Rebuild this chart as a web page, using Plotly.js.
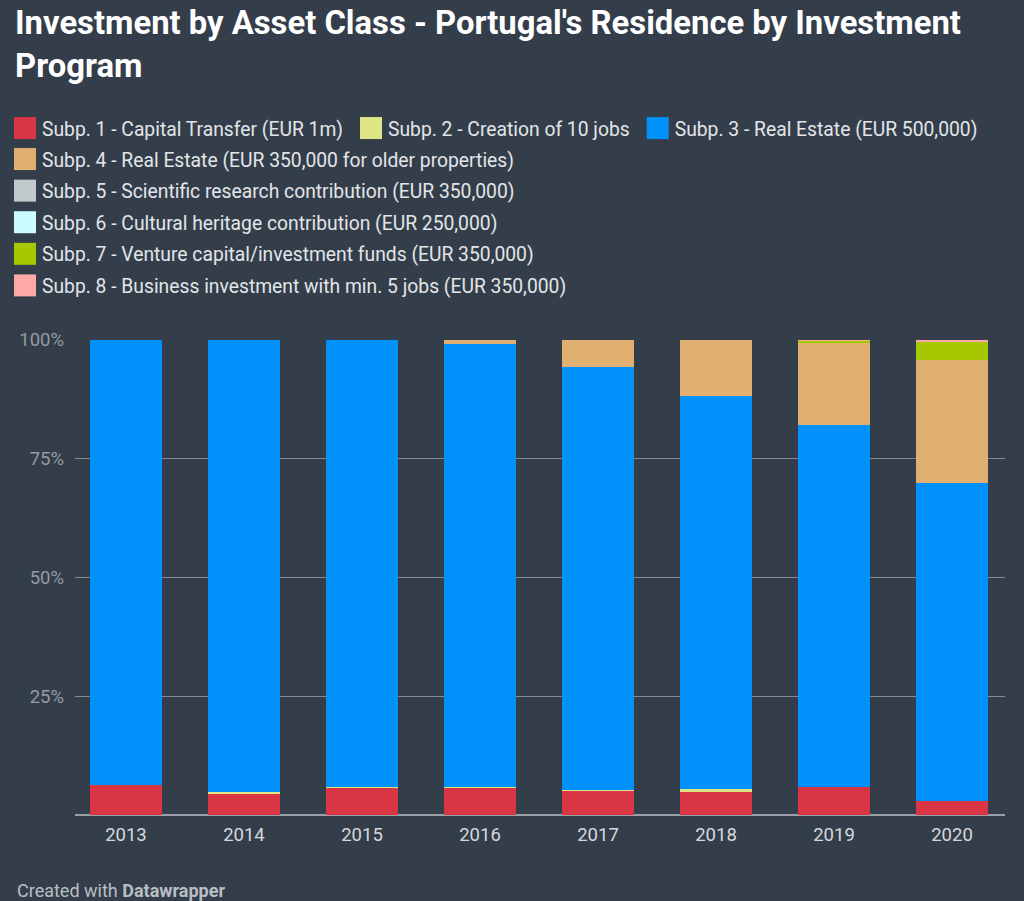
<!DOCTYPE html>
<html>
<head>
<meta charset="utf-8">
<script src="https://cdn.plot.ly/plotly-3.0.1.min.js"></script>
<style>
  html, body { margin: 0; padding: 0; background: #343e4b; }
  #chart { width: 1024px; height: 901px; }
</style>
</head>
<body>
<div id="chart"></div>
<script>
const years = ['2013', '2014', '2015', '2016', '2017', '2018', '2019', '2020'];

const seriesNames = [
  'Subp. 1 - Capital Transfer (EUR 1m)',
  'Subp. 2 - Creation of 10 jobs',
  'Subp. 3 - Real Estate (EUR 500,000)',
  'Subp. 4 - Real Estate (EUR 350,000 for older properties)',
  'Subp. 5 - Scientific research contribution (EUR 350,000)',
  'Subp. 6 - Cultural heritage contribution (EUR 250,000)',
  'Subp. 7 - Venture capital/investment funds (EUR 350,000)',
  'Subp. 8 - Business investment with min. 5 jobs (EUR 350,000)'
];

// Shares in percent
const subp1 = [6.3, 4.5, 5.8, 5.7, 5.1, 5.0, 5.9, 2.9];
const subp2 = [0.0, 0.3, 0.2, 0.1, 0.2, 0.4, 0.1, 0.0];
const subp3 = [93.7, 95.2, 94.0, 93.4, 89.1, 82.8, 76.2, 67.0];
const subp4 = [0.0, 0.0, 0.0, 0.8, 5.6, 11.8, 17.1, 25.9];
const subp5 = [0.0, 0.0, 0.0, 0.0, 0.0, 0.0, 0.0, 0.0];
const subp6 = [0.0, 0.0, 0.0, 0.0, 0.0, 0.0, 0.0, 0.0];
const subp7 = [0.0, 0.0, 0.0, 0.0, 0.0, 0.0, 0.6, 3.9];
const subp8 = [0.0, 0.0, 0.0, 0.0, 0.0, 0.0, 0.1, 0.3];

const yTickVals = [0, 25, 50, 75, 100];
const yTickText = ['', '25%', '50%', '75%', '100%'];

const seriesValues = [subp1, subp2, subp3, subp4, subp5, subp6, subp7, subp8];
const colors = ['#d93545', '#dde584', '#0091fb', '#e1b070', '#c1c9cc', '#cdfcff', '#a6c800', '#ffa9a7'];

const W = 1024, H = 901;
const M = { l: 75, r: 19, t: 340, b: 86 };
const plotW = W - M.l - M.r;
const plotH = H - M.t - M.b;
const px2x = (px) => (px - M.l) / plotW;          // pixel from left -> paper x
const px2y = (py) => (H - M.b - py) / plotH;      // pixel from top  -> paper y

const traces = seriesValues.map((vals, i) => ({
  type: 'bar',
  x: years,
  y: vals,
  name: seriesNames[i],
  marker: { color: colors[i], line: { width: 0 } },
  legend: i < 3 ? 'legend' : 'legend2',
  legendgroup: 'g' + i,
  hoverinfo: 'x+y+name'
}));

const layout = {
  width: W,
  height: H,
  paper_bgcolor: '#343e4b',
  plot_bgcolor: '#343e4b',
  font: { family: 'Roboto, "Noto Sans", sans-serif', color: '#dcdfe3' },
  barmode: 'stack',
  bargap: 0.39,
  margin: { l: M.l, r: M.r, t: M.t, b: M.b, autoexpand: false },
  title: {
    text: "<b>Investment by Asset Class - Portugal's Residence by Investment<br>Program</b>",
    font: { family: 'Roboto, sans-serif', size: 32.8, color: '#ffffff' },
    x: 15 / W, xanchor: 'left', xref: 'container',
    y: 1 - 34 / H, yanchor: 'top', yref: 'container'
  },
  xaxis: {
    type: 'category',
    range: [-0.432, 7.449],
    tickfont: { size: 18.5, color: '#d6d9dd' },
    showgrid: false,
    showline: false,
    ticks: '',
    zeroline: false,
    ticklabelstandoff: 6
  },
  yaxis: {
    range: [0, 100],
    tickvals: yTickVals,
    ticktext: yTickText,
    tickfont: { size: 18.5, color: '#949aa2' },
    gridcolor: '#858b93',
    gridwidth: 1,
    zeroline: true,
    zerolinecolor: '#9ba0a6',
    zerolinewidth: 2,
    showline: false,
    ticks: '',
    ticklabelstandoff: 10,
    fixedrange: true
  },
  legend: {
    orientation: 'h',
    x: px2x(2), xanchor: 'left',
    y: px2y(109), yanchor: 'top',
    font: { size: 19.3, color: '#e3e5e8' },
    bgcolor: 'rgba(0,0,0,0)',
    traceorder: 'normal',
    itemwidth: 30,
    itemclick: false
  },
  legend2: {
    orientation: 'v',
    x: px2x(2), xanchor: 'left',
    y: px2y(140), yanchor: 'top',
    font: { size: 19.3, color: '#e3e5e8' },
    bgcolor: 'rgba(0,0,0,0)',
    traceorder: 'grouped',
    tracegroupgap: 3.5,
    itemwidth: 30,
    itemclick: false
  },
  annotations: [{
    text: 'Created with <b>Datawrapper</b>',
    xref: 'paper', yref: 'paper',
    x: px2x(15), xanchor: 'left',
    y: px2y(890), yanchor: 'middle',
    showarrow: false,
    font: { size: 18, color: '#b9bec4' }
  }]
};

function enlargeLegendSwatches() {
  document.querySelectorAll('#chart .legendpoints path').forEach(p => {
    p.setAttribute('d', 'M14,11H-8V-11H14Z');
  });
}

Plotly.newPlot('chart', traces, layout, { displayModeBar: false }).then(gd => {
  enlargeLegendSwatches();
  gd.on('plotly_afterplot', enlargeLegendSwatches);
});
</script>
</body>
</html>
